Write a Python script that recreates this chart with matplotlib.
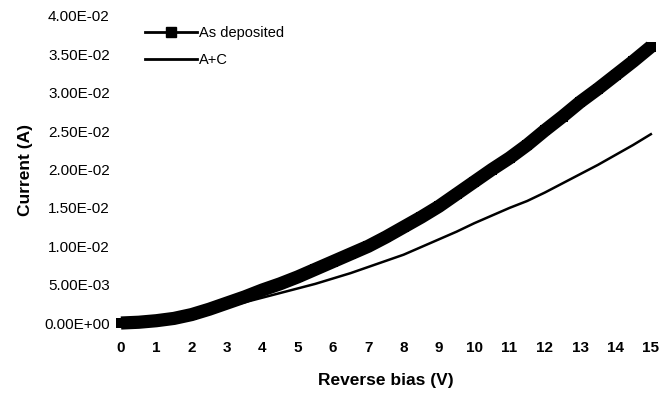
import matplotlib.pyplot as plt
from matplotlib.lines import Line2D

plt.rcParams['font.family'] = ['Liberation Sans', 'DejaVu Sans']

# reverse bias sweep (V)
bias = [0, 0.5, 1, 1.5, 2, 2.5, 3, 3.5, 4, 4.5, 5, 5.5, 6, 6.5, 7, 7.5,
        8, 8.5, 9, 9.5, 10, 10.5, 11, 11.5, 12, 12.5, 13, 13.5, 14, 14.5, 15]

# current (A)
as_deposited = [0.0, 0.0001, 0.0003, 0.0006, 0.0011, 0.0018, 0.0026, 0.0034,
                0.0043, 0.0051, 0.0060, 0.0070, 0.0080, 0.0090, 0.0100, 0.0112,
                0.0125, 0.0138, 0.0152, 0.0168, 0.0184, 0.0200, 0.0215, 0.0232,
                0.0251, 0.0269, 0.0288, 0.0305, 0.0323, 0.0341, 0.0360]
a_plus_c = [0.0, 0.0001, 0.0003, 0.0006, 0.0010, 0.0015, 0.0021, 0.0027,
            0.0033, 0.0039, 0.0045, 0.0051, 0.0058, 0.0065, 0.0073, 0.0081,
            0.0089, 0.0099, 0.0109, 0.0119, 0.0130, 0.0140, 0.0150, 0.0159,
            0.0170, 0.0182, 0.0194, 0.0206, 0.0219, 0.0232, 0.0246]

yticks = [0, 0.005, 0.01, 0.015, 0.02, 0.025, 0.03, 0.035, 0.04]
ytick_labels = ['0.00E+00', '5.00E-03', '1.00E-02', '1.50E-02', '2.00E-02',
                '2.50E-02', '3.00E-02', '3.50E-02', '4.00E-02']

fig = plt.figure(figsize=(6.64, 3.98), dpi=100)
ax = fig.add_axes([0.1822, 0.1884, 0.798, 0.7714])

# dense square markers merge into a thick band
ax.plot(bias, as_deposited, color='black', lw=9.5, marker='s', ms=7, mew=0,
        solid_capstyle='butt', solid_joinstyle='round', clip_on=False, zorder=3)
ax.plot(bias, a_plus_c, color='black', lw=1.8, solid_joinstyle='round',
        clip_on=False, zorder=2)

ax.set_xlim(0, 15)
ax.set_ylim(0, 0.04)
ax.set_xticks(range(16))
ax.set_yticks(yticks)
ax.set_yticklabels(ytick_labels)
ax.tick_params(axis='x', length=0, pad=13, labelsize=11)
ax.tick_params(axis='y', length=0, pad=8, labelsize=11)
for lab in ax.get_xticklabels():
    lab.set_fontweight('bold')
for s in ax.spines.values():
    s.set_visible(False)

ax.set_xlabel('Reverse bias (V)', fontsize=12.5, fontweight='bold', labelpad=13)
ax.set_ylabel('Current (A)', fontsize=12.5, fontweight='bold', labelpad=8)

handles = [Line2D([], [], color='black', lw=2, marker='s', ms=7),
           Line2D([], [], color='black', lw=2)]
ax.legend(handles, ['As deposited', 'A+C'], loc='upper left',
          bbox_to_anchor=(0.02, 1.01), frameon=False, fontsize=10.5,
          handlelength=3.6, handletextpad=0.1, labelspacing=0.9, numpoints=1)

fig.savefig('out.png', dpi=100)
